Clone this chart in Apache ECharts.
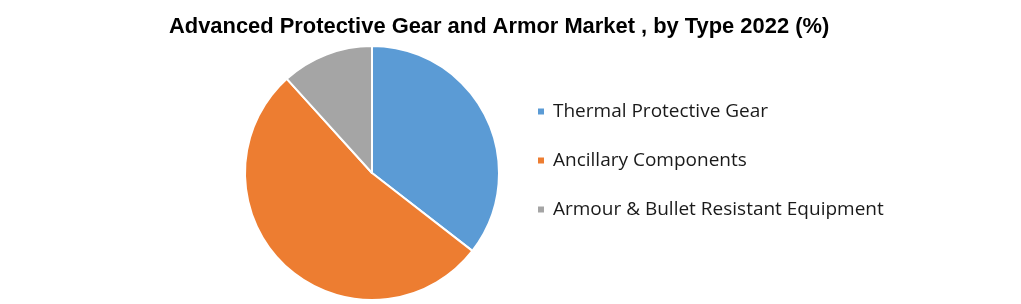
<!DOCTYPE html>
<html><head><meta charset="utf-8">
<script src="https://cdn.jsdelivr.net/npm/echarts@6/dist/echarts.min.js"></script>
<style>html,body{margin:0;padding:0;background:#fff}#c{width:1021px;height:304px}</style>
</head><body><div id="c"></div>
<script>
const titleText = 'Advanced Protective Gear and Armor Market , by Type 2022 (%)';
const categories = ['Thermal Protective Gear', 'Ancillary Components', 'Armour & Bullet Resistant Equipment'];
const values = [35.5, 52.8, 11.7];
const colors = ['#5b9bd5', '#ed7d31', '#a5a5a5'];

const chart = echarts.init(document.getElementById('c'));
chart.setOption({
  animation: false,
  backgroundColor: '#fff',
  title: {
    text: titleText, left: 164, top: 11,
    textStyle: {fontFamily: 'Liberation Sans', fontWeight: 'bold', fontSize: 21.9, color: '#000'}
  },
  legend: {
    orient: 'vertical', left: 531, top: 97, itemWidth: 8, itemHeight: 8, itemGap: 30,
    icon: 'rect',
    textStyle: {fontFamily: 'Open Sans', fontSize: 19, color: '#1a1a1a', padding: [0,0,0,3]},
    data: categories
  },
  series: [{
    type: 'pie', center: [372, 173], radius: 127, startAngle: 90, clockwise: true,
    label: {show: false}, labelLine: {show: false},
    itemStyle: {borderColor: '#fff', borderWidth: 2},
    emphasis: {disabled: true},
    data: categories.map((n, i) => ({name: n, value: values[i], itemStyle: {color: colors[i]}}))
  }]
});
</script></body></html>
